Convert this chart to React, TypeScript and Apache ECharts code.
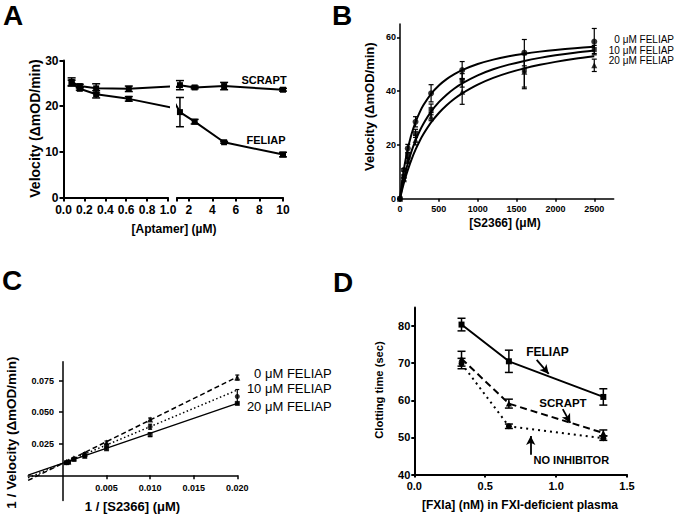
import React, { useEffect, useRef } from "react";
import * as echarts from "echarts";

const FONT = '"Liberation Sans", Arial, Helvetica, sans-serif';

// ---------- Panel A ----------
const aptamerConc = [0.078, 0.156, 0.3125, 0.625, 1.25, 2.5, 5, 10];
const scraptVel = [25.3, 24.4, 23.9, 23.8, 24.6, 24.1, 24.4, 23.6];
const scraptErr = [0.9, 0.4, 1.0, 0.6, 1.0, 0.3, 0.8, 0.3];
const feliapVel = [25.1, 23.8, 22.6, 21.6, 18.7, 16.6, 12.1, 9.4];
const feliapErr = [0.6, 0.3, 0.8, 0.5, 3.2, 0.5, 0.2, 0.5];
const aLeftTicks = [0, 0.2, 0.4, 0.6, 0.8, 1.0];
const aRightTicks = [1, 2, 4, 6, 8, 10];
const aRightLabels = [2, 4, 6, 8, 10];
const aYTicks = [0, 10, 20, 30];

// ---------- Panel B ----------
const s2366 = [0, 50, 100, 200, 400, 800, 1600, 2500];
const vel0 = [0, 10.7, 18.7, 28.6, 39.2, 47.8, 54.3, 58.4];
const vel0Err = [0, 0.5, 1.5, 1.9, 3.2, 3.2, 4.9, 4.9];
const vel10 = [0, 8.3, 16.0, 24.3, 33.2, 44.0, 47.8, 55.5];
const vel10Err = [0, 0.5, 1.0, 1.5, 2.0, 2.5, 6.3, 1.5];
const vel20 = [0, 7.2, 14.2, 21.8, 30.5, 39.8, 47.2, 49.6];
const vel20Err = [0, 0.5, 1.0, 1.8, 1.5, 4.7, 6.3, 2.3];
const fitS = [0, 10, 25, 50, 75, 100, 150, 200, 250, 300, 400, 500, 600, 700, 800, 1000, 1200, 1400, 1600, 1800, 2000, 2250, 2500];
const fit0 = [0, 2.53, 5.97, 10.88, 15.0, 18.5, 24.14, 28.48, 31.92, 34.72, 38.99, 42.1, 44.46, 46.32, 47.81, 50.08, 51.72, 52.95, 53.91, 54.69, 55.33, 55.98, 56.51];
const fit10 = [0, 1.61, 3.87, 7.29, 10.35, 13.09, 17.8, 21.71, 25.0, 27.81, 32.37, 35.89, 38.7, 41.0, 42.9, 45.89, 48.12, 49.85, 51.24, 52.37, 53.31, 54.29, 55.09];
const fit20 = [0, 1.25, 3.05, 5.81, 8.34, 10.65, 14.74, 18.25, 21.28, 23.93, 28.35, 31.88, 34.76, 37.17, 39.2, 42.45, 44.93, 46.89, 48.47, 49.78, 50.88, 52.03, 52.99];
const bXTicks = [0, 500, 1000, 1500, 2000, 2500];
const bYTicks = [0, 20, 40, 60];

// ---------- Panel C ----------
const invS = [0.0004, 0.000625, 0.00125, 0.0025, 0.005, 0.01, 0.02];
const inv0 = [0.0105, 0.011, 0.0135, 0.017, 0.026, 0.0442, 0.0775];
const inv0Err = [0.0005, 0.0005, 0.0006, 0.001, 0.0012, 0.0012, 0.002];
const inv10 = [0.01, 0.0105, 0.013, 0.016, 0.0235, 0.0385, 0.0625];
const inv10Err = [0.0005, 0.0005, 0.0006, 0.001, 0.001, 0.002, 0.0055];
const inv20 = [0.01, 0.0105, 0.0125, 0.015, 0.021, 0.0322, 0.057];
const inv20Err = [0.0005, 0.0005, 0.0006, 0.001, 0.001, 0.0015, 0.001];
const fitInvX = [-0.004, 0.02];
const fitInv0 = [-0.0041, 0.078];
const fitInv10 = [-0.0021, 0.0676];
const fitInv20 = [0.0001, 0.057];
const cXTicks = [0.005, 0.01, 0.015, 0.02];
const cYTicks = [0.025, 0.05, 0.075];

// ---------- Panel D ----------
const fxia = [0.333, 0.667, 1.333];
const dFeliap = [80.4, 70.5, 60.9];
const dFeliapErr = [1.7, 3.0, 2.2];
const dScrapt = [71.2, 59.1, 51.2];
const dScraptErr = [2.0, 1.2, 0.8];
const dNone = [69.9, 53.0, 49.8];
const dNoneErr = [1.4, 0.6, 0.6];
const dXTicks = [0, 0.5, 1.0, 1.5];
const dYTicks = [40, 50, 60, 70, 80];

const pts = (xs: number[], ys: number[]) => xs.map((x, i) => [x, ys[i]]);

function axis(o: any) {
  return {
    type: "value",
    gridIndex: o.grid,
    min: o.min,
    max: o.max,
    show: o.show !== false,
    offset: o.offset || 0,
    splitLine: { show: false },
    axisLine: {
      show: true,
      onZero: false,
      lineStyle: { color: "#000", width: o.w },
    },
    axisTick: {
      show: true,
      inside: false,
      length: o.tl,
      customValues: o.ticks,
      lineStyle: { color: "#000", width: o.w },
    },
    axisLabel: {
      show: true,
      customValues: o.labels || o.ticks,
      margin: o.margin,
      color: "#000",
      fontFamily: FONT,
      fontSize: o.fs,
      fontWeight: "bold",
      formatter: o.fmt,
    },
  };
}

function errSeries(idx: number, xs: number[], ys: number[], es: number[], cap: number, lw: number) {
  const data: number[][] = [];
  xs.forEach((x, i) => {
    if (es[i] > 0) data.push([x, ys[i] - es[i], ys[i] + es[i]]);
  });
  return {
    type: "custom",
    xAxisIndex: idx,
    yAxisIndex: idx,
    silent: true,
    z: 4,
    data,
    encode: { x: 0, y: [1, 2] },
    renderItem: (params: any, api: any) => {
      const x = api.value(0);
      const top = api.coord([x, api.value(2)]);
      const bot = api.coord([x, api.value(1)]);
      const st = { stroke: "#000", lineWidth: lw };
      return {
        type: "group",
        children: [
          { type: "line", shape: { x1: top[0], y1: top[1], x2: bot[0], y2: bot[1] }, style: st },
          { type: "line", shape: { x1: top[0] - cap, y1: top[1], x2: top[0] + cap, y2: top[1] }, style: st },
          { type: "line", shape: { x1: bot[0] - cap, y1: bot[1], x2: bot[0] + cap, y2: bot[1] }, style: st },
        ],
      };
    },
  };
}

function txt(text: string, x: number, y: number, size: number, weight = "bold", align = "center", rot = 0, lh?: number) {
  return {
    type: "text",
    x,
    y,
    rotation: rot,
    silent: true,
    style: {
      text,
      fill: "#000",
      fontSize: size,
      fontWeight: weight,
      fontFamily: FONT,
      lineHeight: lh || Math.round(size * 1.2),
      textAlign: align,
      textVerticalAlign: "middle",
      align,
      verticalAlign: "middle",
    },
  };
}

export default function App() {
  const ref = useRef<HTMLDivElement>(null);

  useEffect(() => {
    if (!ref.current) return;
    const chart = echarts.init(ref.current, undefined, { renderer: "svg" });

    const allIdx = aptamerConc.map((_, i) => i);
    const leftIdx = allIdx.filter((i) => aptamerConc[i] <= 1.25);
    const rightIdx = allIdx.filter((i) => aptamerConc[i] >= 0.625);
    const aLine = (grid: number, idxs: number[], ys: number[], inRange: (x: number) => boolean, sym: string) => ({
      type: "line",
      xAxisIndex: grid,
      yAxisIndex: grid,
      clip: true,
      symbol: sym,
      symbolSize: 6,
      itemStyle: { color: "#000" },
      lineStyle: { color: "#000", width: 2 },
      data: idxs.map((i) =>
        inRange(aptamerConc[i])
          ? [aptamerConc[i], ys[i]]
          : { value: [aptamerConc[i], ys[i]], symbol: "none" }
      ),
      z: 3,
    });
    const sub = (arr: number[], f: (x: number) => boolean) =>
      allIdx.filter((i) => f(aptamerConc[i])).map((i) => arr[i]);
    const inL = (x: number) => x <= 1;
    const inR = (x: number) => x >= 1;

    const bCurve = (ys: number[]) => ({
      type: "line",
      xAxisIndex: 2,
      yAxisIndex: 2,
      showSymbol: false,
      symbol: "none",
      smooth: 0.3,
      lineStyle: { color: "#000", width: 2 },
      data: pts(fitS, ys),
      z: 2,
    });
    const scatter = (idx: number, xs: number[], ys: number[], sym: string, size: number) => ({
      type: "scatter",
      xAxisIndex: idx,
      yAxisIndex: idx,
      symbol: sym,
      symbolSize: size,
      itemStyle: { color: "#000" },
      data: pts(xs, ys),
      z: 5,
    });
    const cLine = (ys: number[], type: any, w: number) => ({
      type: "line",
      xAxisIndex: 3,
      yAxisIndex: 3,
      symbol: "none",
      lineStyle: { color: "#000", width: w, type },
      data: pts(fitInvX, ys),
      z: 2,
    });
    const dLine = (ys: number[], sym: string, type: any, extra: any = {}) => ({
      type: "line",
      xAxisIndex: 4,
      yAxisIndex: 4,
      symbol: sym,
      symbolSize: 6,
      itemStyle: { color: "#000" },
      lineStyle: { color: "#000", width: 2, type },
      data: pts(fxia, ys),
      z: 3,
      ...extra,
    });

    // Panel C grid geometry: y axis sits at x = 0, x axis at y = 0
    const cLeft = 28.1, cTop = 361.8, cW = 209.2, cH = 138.7;
    const cXmin = -0.004, cXmax = 0.02, cYmin = -0.02, cYmax = 0.09;
    const cYOffset = -((0 - cXmin) / (cXmax - cXmin)) * cW;
    const cXOffset = -((0 - cYmin) / (cYmax - cYmin)) * cH;

    const option: any = {
      animation: false,
      backgroundColor: "#fff",
      grid: [
        { left: 63.5, top: 60.5, width: 104.5, height: 137, outerBoundsMode: "none" },
        { left: 177, top: 60.5, width: 106, height: 137, outerBoundsMode: "none" },
        { left: 400, top: 23.9, width: 213.7, height: 174.8, outerBoundsMode: "none" },
        { left: cLeft, top: cTop, width: cW, height: cH, outerBoundsMode: "none" },
        { left: 414.3, top: 307.5, width: 212.7, height: 167, outerBoundsMode: "none" },
      ],
      xAxis: [
        axis({ grid: 0, min: 0, max: 1, w: 2, tl: 4, ticks: aLeftTicks, margin: 6, fs: 12, fmt: (v: number) => v.toFixed(1) }),
        axis({ grid: 1, min: 1, max: 10, w: 2, tl: 4, ticks: aRightTicks, labels: aRightLabels, margin: 6, fs: 12, fmt: (v: number) => String(v) }),
        axis({ grid: 2, min: 0, max: 2750, w: 1.5, tl: 3, ticks: bXTicks, margin: 6, fs: 9, fmt: (v: number) => String(v) }),
        axis({ grid: 3, min: cXmin, max: cXmax, w: 1.5, tl: 4, ticks: cXTicks, margin: 8, fs: 9, offset: cXOffset, fmt: (v: number) => v.toFixed(3) }),
        axis({ grid: 4, min: 0, max: 1.5, w: 2, tl: 3, ticks: dXTicks, margin: 6, fs: 11, fmt: (v: number) => v.toFixed(1) }),
      ],
      yAxis: [
        axis({ grid: 0, min: 0, max: 30, w: 2, tl: 4, ticks: aYTicks, margin: 5, fs: 12, fmt: (v: number) => String(v) }),
        axis({ grid: 1, min: 0, max: 30, w: 2, tl: 4, ticks: aYTicks, margin: 5, fs: 12, show: false }),
        axis({ grid: 2, min: 0, max: 65, w: 1.5, tl: 3, ticks: bYTicks, margin: 4, fs: 9, fmt: (v: number) => String(v) }),
        axis({ grid: 3, min: cYmin, max: cYmax, w: 1.5, tl: 4, ticks: cYTicks, margin: 9, fs: 9, offset: cYOffset, fmt: (v: number) => v.toFixed(3) }),
        axis({ grid: 4, min: 40, max: 85, w: 2, tl: 3, ticks: dYTicks, margin: 4, fs: 11, fmt: (v: number) => String(v) }),
      ],
      series: [
        // Panel A
        aLine(0, leftIdx, scraptVel, inL, "rect"),
        aLine(0, leftIdx, feliapVel, inL, "rect"),
        aLine(1, rightIdx, scraptVel, inR, "rect"),
        aLine(1, rightIdx, feliapVel, inR, "rect"),
        errSeries(0, sub(aptamerConc, inL), sub(scraptVel, inL), sub(scraptErr, inL), 4, 1.5),
        errSeries(0, sub(aptamerConc, inL), sub(feliapVel, inL), sub(feliapErr, inL), 4, 1.5),
        errSeries(1, sub(aptamerConc, inR), sub(scraptVel, inR), sub(scraptErr, inR), 4, 1.5),
        errSeries(1, sub(aptamerConc, inR), sub(feliapVel, inR), sub(feliapErr, inR), 4, 1.5),
        // Panel B
        bCurve(fit0),
        bCurve(fit10),
        bCurve(fit20),
        scatter(2, s2366, vel0, "circle", 6),
        scatter(2, s2366, vel10, "rect", 5),
        scatter(2, s2366, vel20, "triangle", 6),
        errSeries(2, s2366, vel0, vel0Err, 2.5, 1.2),
        errSeries(2, s2366, vel10, vel10Err, 2.5, 1.2),
        errSeries(2, s2366, vel20, vel20Err, 2.5, 1.2),
        // Panel C
        cLine(fitInv0, [5, 3], 1.5),
        cLine(fitInv10, [1.5, 2.5], 1.5),
        cLine(fitInv20, "solid", 1.3),
        scatter(3, invS, inv0, "triangle", 6),
        scatter(3, invS, inv10, "circle", 5),
        scatter(3, invS, inv20, "rect", 5),
        errSeries(3, invS, inv0, inv0Err, 2, 1.2),
        errSeries(3, invS, inv10, inv10Err, 2, 1.2),
        errSeries(3, invS, inv20, inv20Err, 2, 1.2),
        // Panel D
        dLine(dFeliap, "rect", "solid", {
          markLine: {
            silent: true,
            animation: false,
            symbol: ["none", "arrow"],
            symbolSize: [7, 9],
            label: { show: false },
            lineStyle: { color: "#000", width: 1.8, type: "solid" },
            data: [
              [{ coord: [0.863, 70.9] }, { coord: [0.948, 67.1] }],
              [{ coord: [1.047, 57.6] }, { coord: [1.1, 53.9] }],
              [{ coord: [0.821, 45.3] }, { coord: [0.821, 50.4] }],
            ],
          },
        }),
        dLine(dScrapt, "triangle", [7, 4]),
        dLine(dNone, "circle", [2, 4]),
        errSeries(4, fxia, dFeliap, dFeliapErr, 4, 1.5),
        errSeries(4, fxia, dScrapt, dScraptErr, 4, 1.5),
        errSeries(4, fxia, dNone, dNoneErr, 4, 1.5),
      ],
      graphic: {
        elements: [
          txt("A", 3, 15, 28, "bold", "left"),
          txt("B", 332, 15, 28, "bold", "left"),
          txt("C", 2, 280, 28, "bold", "left"),
          txt("D", 333, 282, 28, "bold", "left"),
          // Panel A
          txt("Velocity (\u0394mOD/min)", 35, 128.5, 14, "bold", "center", Math.PI / 2),
          txt("[Aptamer] (\u00b5M)", 174, 229, 12),
          txt("SCRAPT", 264, 79.5, 11),
          txt("FELIAP", 266, 140, 11),
          // Panel B
          txt("Velocity (\u0394mOD/min)", 369.3, 106.7, 13, "bold", "center", Math.PI / 2),
          txt("[S2366] (\u03bcM)", 505, 223, 12),
          txt("0 \u03bcM FELIAP", 674, 39.8, 10, "normal", "right", 0, 10),
          txt("10 \u03bcM FELIAP", 674, 50.3, 10, "normal", "right", 0, 10),
          txt("20 \u03bcM FELIAP", 674, 60.8, 10, "normal", "right", 0, 10),
          // Panel C
          txt("1 / Velocity (\u0394mOD/min)", 11.7, 432.5, 13.5, "bold", "center", Math.PI / 2),
          txt("1 / [S2366] (\u03bcM)", 132.5, 506.7, 13),
          txt("0 \u03bcM FELIAP", 331.7, 373.3, 13, "normal", "right", 0, 14),
          txt("10 \u03bcM FELIAP", 331.7, 388.8, 13, "normal", "right", 0, 14),
          txt("20 \u03bcM FELIAP", 331.7, 406.7, 13, "normal", "right", 0, 14),
          // Panel D
          txt("Clotting time (sec)", 379.3, 390, 11.2, "bold", "center", Math.PI / 2),
          txt("[FXIa] (nM) in FXI-deficient plasma", 520, 505, 12),
          txt("FELIAP", 547.5, 351.7, 12),
          txt("SCRAPT", 563, 403.3, 11.5),
          txt("NO INHIBITOR", 571.3, 460, 11),
        ],
      },
    };

    chart.setOption(option);
    return () => chart.dispose();
  }, []);

  return (
    <div
      ref={ref}
      style={{ position: "fixed", left: 0, top: 0, width: 675, height: 515, background: "#fff" }}
    />
  );
}
